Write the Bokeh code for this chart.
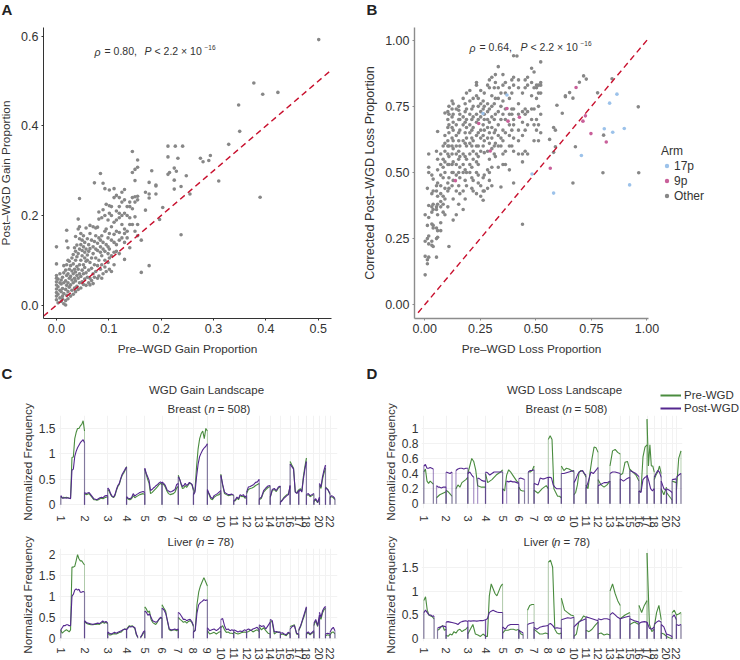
from bokeh.plotting import figure
from bokeh.layouts import column, row
from bokeh.models import Label, Legend, LegendItem, FixedTicker, Range1d
from bokeh.embed import file_html
from bokeh.resources import INLINE

TXT = "#333333"
FONT = "Liberation Sans"
GREY = "#878787"
GREEN = "#4a8c3f"
PURPLE = "#54278f"
RED = "#c8102e"

# ---------- panel A: x, [y...] columns
gain_columns = [
 (.000,[.012,.02,.028,.036,.045,.052,.06,.066,.092,.13]),
 (.003,[.005,.024,.041,.058]),
 (.0065,[.016,.033,.05,.07]),
 (.009,[.008,.03,.047,.056]),
 (.0115,[.02,.037,.014,.062]),
 (.014,[.003,.026,.05,.072,.088]),
 (.0175,[.0,.01,.035,.054,.078]),
 (.0195,[.022,.044,.066,.09,.143,.167]),
 (.022,[.014,.03,.05,.07,.1,.128]),
 (.0245,[.04,.06,.08,.098]),
 (.027,[.02,.045,.064,.088]),
 (.0295,[.033,.056,.076,.105]),
 (.032,[.024,.05,.07,.092,.113]),
 (.0345,[.038,.06,.08,.128]),
 (.0365,[.03,.054,.074,.1,.12,.153]),
 (.039,[.042,.066,.086,.108,.134]),
 (.0415,[.035,.06,.08,.115,.17,.192]),
 (.044,[.05,.07,.09,.125,.148,.175,.238]),
 (.0465,[.038,.064,.1,.135,.16]),
 (.049,[.052,.078,.11,.122,.145]),
 (.0515,[.046,.07,.09,.13,.155]),
 (.054,[.058,.084,.105,.118,.14]),
 (.0565,[.044,.072,.098,.125,.172]),
 (.059,[.062,.1,.112,.148]),
 (.0615,[.05,.078,.12,.135]),
 (.064,[.045,.06,.095,.126,.16,.178]),
 (.067,[.055,.082,.105,.145]),
 (.070,[.048,.07,.115,.13,.175]),
 (.0725,[.062,.09,.142,.273]),
 (.075,[.075,.105,.125,.155,.172]),
 (.0785,[.06,.088,.122,.138,.174]),
 (.081,[.065,.1,.15,.192,.208]),
 (.084,[.08,.118,.13,.145,.294]),
 (.0865,[.06,.09,.11,.155,.195]),
 (.089,[.07,.125,.14,.213,.272]),
 (.0925,[.085,.1,.12,.165,.2,.26]),
 (.095,[.075,.135,.17,.225]),
 (.0985,[.095,.115,.13,.15,.19]),
 (.101,[.08,.105,.125,.16,.205,.222,.257]),
 (.105,[.075,.11,.145,.175,.2,.22]),
 (.110,[.09,.118,.14,.158,.185,.24,.26]),
 (.1145,[.12,.135,.165,.19,.21,.245]),
 (.120,[.115,.145,.162,.195,.205,.22,.24]),
 (.125,[.15,.18,.2,.23,.252]),
 (.130,[.102,.14,.16,.17,.205,.235,.258]),
 (.135,[.15,.165,.2,.22]),
 (.140,[.128,.18,.195,.22,.23]),
 (.145,[.18,.215,.24,.296,.343]),
 (.150,[.165,.197,.23,.242,.278,.303]),
 (.155,[.155,.18,.235,.243,.308,.324]),
 (.162,[.073,.145]),
 (.170,[.212,.252]),
 (.177,[.088,.239,.248,.274]),
 (.182,[.3]),
 (.190,[.248,.266,.268]),
 (.197,[.191]),
 (.203,[.218]),
 (.213,[.292,.331,.355]),
 (.216,[.296]),
 (.225,[.259,.279,.306]),
 (.227,[.355]),
 (.229,[.299]),
 (.232,[.328]),
 (.238,[.157,.265]),
 (.241,[.355]),
 (.248,[.289]),
 (.255,[.248]),
 (.275,[.328]),
 (.280,[.32]),
 (.291,[.323]),
 (.294,[.334]),
 (.310,[.277]),
 (.329,[.359]),
 (.348,[.447]),
 (.350,[.388]),
 (.377,[.496]),
 (.389,[.241]),
 (.394,[.471]),
 (.423,[.475]),
 (.501,[.593]),
]

# ---------- panel B
loss_columns = [
 (.002,[.113,.183,.24,.34]),
 (.012,[.155,.17,.25,.3,.44]),
 (.018,[.18,.23,.26,.33,.375,.5,.52,.57]),
 (.032,[.225,.24,.305,.35,.37,.42,.49]),
 (.038,[.22,.29,.3,.36,.38,.43,.475]),
 (.053,[.18,.25,.29,.36,.37,.43,.45,.58]),
 (.058,[.255,.28,.34,.38,.41,.46,.51,.55,.655]),
 (.072,[.28,.31,.37,.39,.42,.45,.49,.53,.57]),
 (.083,[.35,.38,.41,.48,.52,.55,.6]),
 (.091,[.34,.4,.44,.5,.54,.58,.61,.64,.725]),
 (.104,[.37,.43,.46,.53,.57,.6,.62,.67,.7,.73]),
 (.109,[.22,.44,.48,.53,.56,.6,.65,.68,.72,.75]),
 (.123,[.45,.5,.53,.57,.6,.63,.67,.71,.74,.77]),
 (.128,[.32,.4,.47,.5,.54,.59,.62,.66,.69,.72,.76]),
 (.142,[.34,.43,.49,.53,.57,.6,.64,.68,.74]),
 (.153,[.38,.45,.5,.55,.58,.62,.65,.7,.735,.75]),
 (.158,[.42,.48,.52,.56,.6,.66,.7,.72]),
 (.173,[.36,.43,.5,.53,.57,.62,.68,.71,.78]),
 (.182,[.4,.47,.51,.56,.61,.65,.69,.73,.76]),
 (.188,[.45,.5,.55,.6,.63,.67,.7,.74,.8]),
 (.203,[.5,.53,.57,.61,.65,.68,.72,.77,.81]),
 (.212,[.44,.48,.52,.6,.63,.66,.7,.74]),
 (.218,[.43,.47,.55,.58,.62,.67,.71,.75,.78]),
 (.233,[.42,.5,.54,.57,.6,.64,.69,.72,.79,.83,.84]),
 (.241,[.46,.49,.53,.56,.6,.65,.7,.75,.78]),
 (.252,[.41,.45,.58,.63,.66,.71,.73,.76,.81]),
 (.263,[.395,.43,.48,.6,.64,.68,.74,.77]),
 (.268,[.43,.49,.575,.62,.66,.7,.72,.75,.8]),
 (.283,[.44,.51,.58,.63,.67,.7,.73,.76,.83]),
 (.291,[.47,.5,.55,.61,.65,.69,.74,.82,.85]),
 (.302,[.45,.52,.59,.63,.67,.71,.75,.79,.86]),
 (.313,[.57,.6,.65,.7,.76,.82]),
 (.318,[.56,.61,.66,.72,.78,.84,.87]),
 (.331,[.52,.6,.64,.68,.73,.78,.82,.9]),
 (.343,[.445,.6,.63,.7,.75,.8]),
 (.352,[.53,.57,.62,.66,.72,.77,.83,.87]),
 (.363,[.53,.58,.65,.7,.74,.8,.84]),
 (.381,[.51,.6,.64,.68,.72,.78,.82]),
 (.392,[.6,.66,.72,.74,.8,.85]),
 (.40,[.46,.58,.63,.68,.7,.74,.83,.86,.941]),
 (.415,[.94]),
 (.422,[.57,.62,.66,.72,.76,.82,.85]),
 (.44,[.304,.54,.57,.64,.69,.73,.8]),
 (.452,[.58,.66,.72,.74,.82,.85]),
 (.463,[.57,.68,.73,.83,.86]),
 (.481,[.7,.74,.79,.84,.894]),
 (.492,[.62,.68,.74,.82,.88]),
 (.503,[.66,.7,.78,.82,.83]),
 (.512,[.62,.68,.75,.8,.83]),
 (.522,[.65,.72,.8,.83,.84,.918]),
 (.562,[.625]),
 (.58,[.576,.67]),
 (.588,[.597,.66]),
 (.595,[.754]),
 (.619,[.724]),
 (.633,[.786,.79]),
 (.652,[.802]),
 (.667,[.46,.781]),
 (.678,[.597]),
 (.696,[.841]),
 (.715,[.865]),
 (.727,[.853]),
 (.778,[.801]),
 (.802,[.499]),
 (.805,[.641]),
 (.843,[.854]),
 (.961,[.748]),
 (.963,[.499]),
]
arm_17p_x = [.865,.832,.808,.898,.846,.705,.922,.580,.483,.262,.370]
arm_17p_y = [.796,.762,.665,.666,.652,.564,.453,.422,.494,.723,.793]
arm_9p_x = [.681,.723,.712,.748,.817,.565,.138,.295,.370,.375,.426,.243]
arm_9p_y = [.821,.714,.694,.647,.615,.516,.469,.581,.742,.694,.709,.685]

# ---------- landscapes: genome and tick labels
chrom_len = [249,243,198,191,181,171,159,146,141,135,135,133,115,107,102,90,81,78,59,63,48,51]
chrom_tick_labels = ["1","2","3","4","5","6","7","8","9","10","11","12","13","14","15","16","17","18","","20","","22"]

gain_breast_post = [
 [.18,.14,.13,.14,.13,.14,.13,.12,.68,.7,.95,1.05,1.12,1.17,1.22,1.25,1.28,1.22],
 [.24,.22,.23,.24,.2,.16,.12,.11,.1,.12,.14,.15,.14,.17,.18,.18],
 [.33,.3,.22,.17,.15,.2,.3,.38,.42,.52,.6,.65,.7,.74],
 [.16,.13,.12,.14,.22,.17,.2,.22,.24,.25,.26,.24],
 [.72,.62,.55,.48,.28,.3,.33,.35,.38,.4,.43,.45,.42],
 [.45,.42,.38,.3,.27,.25,.26,.28,.3,.4,.42],
 [.55,.5,.42,.36,.38,.42,.38,.4,.44,.42,.4,.3],
 [.2,.25,.55,.8,.95,1.02,1.08,1.12,1.15,1.2],
 [.3,.22,.15,.12,.18,.2,.22,.25,.28],
 [.58,.4,.25,.22,.2,.2,.21,.19],
 [.08,.1,.15,.12,.2,.18,.2,.15,.18],
 [.25,.35,.36,.38,.4,.44,.45,.5],
 [.12,.15,.28,.33,.37,.38],
 [.15,.3,.32,.28,.35,.37],
 [.05,.08,.12,.15,.18,.2,.38],
 [.8,.75,.7,.25,.22,.28],
 [.25,.3,.25,.5,.7,.85],
 [.2,.22,.18,.2,.22],
 [.08,.12,.05,.15],
 [.42,.35,.55,.68,.78],
 [.33,.3,.22],
 [.15,.18,.16,.12],
]
gain_breast_pre = [
 [.16,.13,.15,.14,.15,.14,.13,.13,.93,.94,1.3,1.42,1.5,1.5,1.55,1.58,1.65,1.45],
 [.22,.2,.21,.22,.18,.14,.1,.1,.09,.1,.12,.13,.12,.14,.15,.16],
 [.3,.27,.2,.16,.14,.18,.28,.36,.4,.5,.58,.62,.68,.75],
 [.14,.11,.1,.12,.18,.14,.16,.18,.2,.21,.22,.2],
 [.7,.6,.5,.42,.22,.24,.27,.3,.33,.36,.4,.42,.4],
 [.42,.4,.35,.27,.22,.2,.21,.22,.25,.33,.36],
 [.58,.5,.4,.32,.33,.38,.34,.38,.42,.42,.38,.28],
 [.2,.3,.75,1.1,1.3,1.4,1.45,1.3,1.5,1.45],
 [.28,.2,.12,.1,.15,.17,.19,.2,.24],
 [.6,.38,.22,.2,.18,.19,.2,.18],
 [.07,.08,.13,.1,.18,.16,.17,.13,.15],
 [.22,.3,.32,.33,.35,.38,.4,.42],
 [.1,.13,.25,.3,.34,.36],
 [.14,.28,.3,.26,.33,.36],
 [.06,.09,.14,.17,.2,.22,.36],
 [.85,.78,.72,.25,.24,.3],
 [.27,.32,.26,.55,.75,.92],
 [.18,.2,.16,.18,.2],
 [.06,.1,.04,.12],
 [.38,.32,.5,.62,.72],
 [.35,.3,.2],
 [.14,.16,.14,.1],
]
gain_liver_post = [
 [.2,.25,.3,.3,.32,.32,.3,.3,1.0,1.05,1.15,1.18,1.15,1.17,1.1,1.1,1.12,1.1],
 [.42,.38,.36,.35,.34,.33,.34,.35,.36,.35,.38,.41,.38,.4,.36],
 [.15,.12,.1,.12,.14,.12,.14,.16,.18,.2,.22,.2],
 [.2,.24,.28,.27,.28,.27,.25,.1,.03,.0,.02,.08,.15,.18],
 [.65,.62,.55,.58,.5,.42,.4,.38,.4,.45,.5,.48],
 [.72,.68,.6,.42,.22,.2,.2,.22,.2,.22],
 [.62,.58,.52,.45,.45,.42,.44,.45,.4,.3],
 [.15,.18,.6,.8,.85,.88,.92,.9,.92],
 [.25,.18,.2,.22,.18,.22,.28],
 [.45,.47,.3,.2,.22,.18,.2,.18],
 [.2,.18,.15,.17,.16,.2,.18],
 [.2,.22,.18,.22,.24,.26,.2],
 [.32,.28,.3,.22,.3,.38],
 [.45,.42,.15,.16,.14,.15],
 [.12,.13,.1,.08,.14,.12],
 [.22,.28,.3,.12,.1],
 [.2,.3,.45,.6,.75],
 [.12,.15,.1,.14,.18],
 [.35,.45,.3,.55],
 [.62,.5,.65,.72,.76],
 [.1,.12,.1],
 [.15,.22,.26,.18],
]
gain_liver_pre = [
 [.2,.12,.15,.18,.2,.18,.15,.2,1.7,1.7,1.72,1.85,2.0,1.9,1.85,1.85,1.8,1.75],
 [.4,.36,.34,.33,.32,.32,.33,.33,.34,.33,.36,.38,.36,.38,.34],
 [.12,.08,.08,.1,.11,.1,.12,.14,.15,.2,.22,.2],
 [.22,.26,.3,.28,.3,.27,.22,.08,.02,.0,.02,.06,.12,.16],
 [.75,.7,.62,.65,.45,.38,.35,.33,.38,.45,.48,.48],
 [.8,.72,.65,.4,.2,.18,.2,.2,.18,.2],
 [.5,.45,.42,.38,.4,.36,.4,.42,.38,.28],
 [.15,.2,.8,1.1,1.25,1.35,1.45,1.35,1.25],
 [.18,.1,.12,.14,.1,.14,.16],
 [.25,.3,.2,.14,.15,.12,.12,.1],
 [.15,.12,.1,.12,.14,.15,.14],
 [.14,.16,.2,.15,.18,.2,.16],
 [.28,.2,.25,.18,.12,.1],
 [.42,.38,.1,.14,.15,.14],
 [.08,.1,.08,.06,.12,.1],
 [.28,.3,.32,.1,.08],
 [.18,.28,.42,.55,.72],
 [.1,.12,.08,.12,.15],
 [.3,.42,.28,.5],
 [.55,.45,.6,.68,.72],
 [.06,.08,.06],
 [.08,.14,.15,.1],
]
loss_breast_post = [
 [.5,.52,.47,.47,.48,.47,.46,0,.24,.22,.22,.21,.22,.22,.22],
 [.42,.41,.4,.42,0,.44,.46,.47,.47,.46,.47,.47],
 [.4,.42,.38,.35,0,.34,.33,.31,.3,.3],
 [.42,.41,.38,.4,.42,.42,.42,.42,.42],
 [.2,0,.3,.29,.3,.29,.29,.28,.27],
 [.33,.34,.33,.32,0,.42,.44,.44,.45],
 [.27,.26,.25,.34,.33,.33,.34,.35],
 [.35,.35,.34,.25,.22,.2,.2,.2,.2],
 [.4,.4,.41,.42,.43,.44],
 [.28,.32,.38,.42,.43,.44,.4,.38],
 [.2,.3,.42,.4,.44,.48],
 [.24,.26,.28,.28,.3],
 [.4,.42,.42,.41,.4],
 [.33,.3,.33,.35],
 [.44,.42,.4,.36],
 [.17,.15,.32,.35,.36],
 [.38,.3,.2,.17,.2],
 [.35,.4,.44,.42,.35],
 [.3,.2,.18],
 [.2,.18,.15],
 [.32,.33],
 [.35,.38,.4],
]
loss_breast_pre = [
 [.42,.46,.3,.27,.3,.28,.26,0,.08,.1,.12,.13,.14,.15,.16],
 [.18,.16,.13,.1,0,.2,.25,.22,.28,.3,.32,.35],
 [.4,.5,.6,.56,.45,.24,.23,.22,.22,.22],
 [.4,.28,.3,.32,.35,.38,.4,.42,.45],
 [.2,.17,.38,.45,.42,.38,.34,.3,.28],
 [.22,.18,.17,.17,0,.42,.42,.44,.5],
 [.18,.16,.14,.17,.2,.22,.24,.2],
 [.85,.9,.85,.2,.15,.1,.1,.08],
 [.5,.44,.47,.46,.44,.42],
 [.12,.15,.25,.42,.44,.43,.4,.35],
 [.25,.2,.42,.6,.75,.74,.68],
 [.32,.25,.22,.25,.3],
 [.5,.7,.72,.68,.66],
 [.38,.4,.55,.56,.45],
 [.46,.42,.38,.3],
 [.17,.16,.62,.75,.78],
 [1.12,.5,.78,.5,.5,.42],
 [.32,.38,.42,.5,.4],
 [.2,.12,.22],
 [.15,.1,.05],
 [.3,.28],
 [.18,.6,.7],
]
loss_liver_post = [
 [.55,.6,.55,.5,.5,.47,.48,0,.22,.24,.25,.27,.26,.25],
 [.35,.36,.35,.34,.33,.32,.3,.34,.36,.37,.38,.36],
 [.38,.37,.38,.37,.38,.38,.4],
 [.4,.42,.55,.58,.6,.58,.56,.55,.55,.55],
 [.25,.2,.28,.3,.3,.3,.3],
 [.18,.15,.12,0,.3,.32,.33,.34],
 [.24,.2,.24,.26,.27,.28],
 [.3,.32,.28,.22,.23,.22,.22],
 [.4,.42,.44,.43,.45],
 [.25,.3,.35,.38,.4,.42],
 [.46,.44,.42,.4,.38],
 [.42,.4,.42,.42,.4],
 [.5,.55,.5,.45,.42],
 [.42,.45,.48],
 [.42,.38,.35],
 [.32,.35,.36,.35],
 [.35,.22,.2,.25],
 [.3,.35,.38,.35],
 [.3,.25,.1],
 [.1,.08,.05],
 [.45,.5,.4],
 [.3,.28,.3],
]
loss_liver_pre = [
 [.8,.88,.6,.5,.48,.46,.42,0,.18,.2,.25,.28,.18,.2],
 [.08,.05,.1,.08,.15,.12,.18,.2,.15,.18,.2,.25],
 [.1,.2,.3,.1,.08,.05,.1,.06],
 [.05,.05,.9,1.15,1.05,.95,.9,1.0,1.1,1.15],
 [.12,.18,.18,.2,.2,.18,.2],
 [.18,.1,.08,0,.6,.7,.72,.72],
 [.2,.15,.1,.1,.12,.1],
 [1.6,1.65,1.5,.2,.12,.1,.12],
 [.85,.6,.55,.5,.48],
 [.05,.1,.35,.4,.48,.45],
 [.18,.15,.2,.28,.35],
 [.1,.12,.08,.1,.08],
 [1.0,1.15,.95,.8,.7],
 [.42,.5,.55],
 [.3,.35,.3],
 [.7,.55,.7,.8],
 [1.8,.3,.15,.2],
 [.25,.55,.7,.4],
 [.12,.1,.05],
 [.05,.02,.0],
 [.55,.6,.5],
 [.5,.52,.55],
]

def unzip(cols):
    xs, ys = [], []
    for x, vals in cols:
        for v in vals:
            xs.append(x); ys.append(v)
    return xs, ys

def genome_line(series):
    """Curve with gaps, plus the vertical drops to zero at each gap."""
    cx_, cy_, dx_, dy_ = [], [], [], []
    start = 0
    for length, vals in zip(chrom_len, series):
        n = len(vals)
        seg = []
        def flush():
            if seg:
                cx_.extend(p[0] for p in seg); cy_.extend(p[1] for p in seg)
                cx_.append(float("nan")); cy_.append(float("nan"))
                dx_.append([seg[0][0], seg[0][0]]); dy_.append([0, seg[0][1]])
                dx_.append([seg[-1][0], seg[-1][0]]); dy_.append([0, seg[-1][1]])
                seg.clear()
        for i, v in enumerate(vals):
            xv = start + length * i / (n - 1)
            if v == 0 and (i > 0 and i < n - 1):
                flush()
            else:
                seg.append((xv, v))
        flush()
        start += length
    return cx_, cy_, dx_, dy_

chrom_start = [sum(chrom_len[:i]) for i in range(len(chrom_len))]
META = {}

def make(width, height, l, t, r, b, xr, yr, **kw):
    p = figure(width=width, height=height, frame_width=width - l - r, frame_height=height - t - b,
               min_border_left=l, min_border_right=r, min_border_top=t, min_border_bottom=b,
               x_range=Range1d(*xr), y_range=Range1d(*yr),
               output_backend="svg", toolbar_location=None, **kw)
    p.outline_line_color = None
    p.background_fill_color = None
    p.border_fill_color = None
    for ax in (p.xaxis[0], p.yaxis[0]):
        ax.major_label_text_font = FONT
        ax.axis_label_text_font = FONT
        ax.axis_label_text_font_style = "normal"
        ax.major_label_text_color = TXT
        ax.axis_label_text_color = TXT
    META[p.id] = ((l, t, width - r, height - b), xr, yr)
    return p

def strip(width, height):
    p = figure(width=width, height=height, frame_width=width, frame_height=height,
               min_border_left=0, min_border_right=0, min_border_top=0, min_border_bottom=0,
               x_range=Range1d(0, width), y_range=Range1d(height, 0),
               x_axis_location=None, y_axis_location=None,
               output_backend="svg", toolbar_location=None)
    p.outline_line_color = None
    p.background_fill_color = None
    p.border_fill_color = None
    p.grid.visible = False
    META[p.id] = ((0, 0, width, height), (0, width), None)
    return p

def put(p, text, px, py, size=11, style="normal", align="left", color=TXT):
    # px, py are offsets from the figure's own frame origin reference (left edge of figure, top of figure)
    (l, t, r, b), xr, yr = META[p.id]
    x = xr[0] + (px - l) / (r - l) * (xr[1] - xr[0])
    y = py if yr is None else yr[1] - (py - t) / (b - t) * (yr[1] - yr[0])
    p.add_layout(Label(x=x, y=y, text=text, text_font=FONT, text_font_size=f"{size}px",
                       text_font_style=style, text_align=align, text_baseline="middle",
                       text_color=color))

def scatter_axes(p, xticks, xlabels, yticks, ylabels, xlabel, ylabel, axis_color, axis_width, label_standoff, ylab_size):
    p.xgrid.visible = False
    p.ygrid.visible = False
    xa, ya = p.xaxis[0], p.yaxis[0]
    xa.ticker = FixedTicker(ticks=xticks)
    ya.ticker = FixedTicker(ticks=yticks)
    xa.major_label_overrides = dict(zip(xticks, xlabels))
    ya.major_label_overrides = dict(zip(yticks, ylabels))
    xa.axis_label, ya.axis_label = xlabel, ylabel
    for ax in (xa, ya):
        ax.axis_line_color = axis_color
        ax.axis_line_width = axis_width
        ax.major_tick_line_color = axis_color
        ax.major_tick_out = 2
        ax.major_tick_in = 0
        ax.minor_tick_line_color = None
        ax.major_label_text_font_size = "12.5px"
        ax.major_label_standoff = 3
    xa.axis_label_text_font_size = "11.8px"
    ya.axis_label_text_font_size = ylab_size
    xa.axis_label_standoff = 6
    ya.axis_label_standoff = label_standoff

# top strip with the two panel letters
top = strip(740, 27)
put(top, "A", 1, 9, 15, "bold", color="#222222")
put(top, "B", 366, 9, 15, "bold", color="#222222")

# panel A: a 4px wider left gutter hanging off the page so that the axis title sits at the page edge
a_ticks_x = [0, .1, .2, .3, .4, .5]
a_labels_x = ["0.0", "0.1", "0.2", "0.3", "0.4", "0.5"]
a_ticks_y = [0, .2, .4, .6]
a_labels_y = ["0.0", "0.2", "0.4", "0.6"]
A = make(364, 333, 47, 0, 29, 42, (-.0248, .5254), (-.03, .62), margin=(0, 0, 0, -4))
scatter_axes(A, a_ticks_x, a_labels_x, a_ticks_y, a_labels_y,
             "Pre\u2013WGD Gain Proportion", "Post\u2013WGD Gain Proportion", "#333333", 1, 5, "11.8px")
ax, ay = unzip(gain_columns)
A.scatter(ax, ay, size=3.6, color=GREY, line_color=None)
A.line([-.025, .525], [-.025, .525], color=RED, line_width=1.4, line_dash="6 4")
put(A, "\u03c1", 98, 24, 10.5, "italic")
put(A, "= 0.80,", 108, 23, 10.5)
put(A, "P", 148, 23, 10.5, "italic")
put(A, "< 2.2 \u00d7 10", 158, 23, 10.5)
put(A, "\u221216", 208, 20, 6.5)

# panel B
b_ticks = [0, .25, .5, .75, 1]
b_labels = ["0.00", "0.25", "0.50", "0.75", "1.00"]
B = make(383, 333, 57, 0, 92, 42, (-.046, 1.007), (-.052, 1.048), margin=(0, 0, 0, -3))
scatter_axes(B, b_ticks, b_labels, b_ticks, b_labels,
             "Pre\u2013WGD Loss Proportion", "Corrected Post\u2013WGD Loss Proportion", "#8c8c8c", 1.4, 5, "12.6px")
bx, by = unzip(loss_columns)
r_other = B.scatter(bx, by, size=3.6, color=GREY, line_color=None)
r_17 = B.scatter(arm_17p_x, arm_17p_y, size=3.6, color="#9cc2ea", line_color=None)
r_9 = B.scatter(arm_9p_x, arm_9p_y, size=3.6, color="#c9609a", line_color=None)
B.line([-.03, 1.01], [-.03, 1.01], color=RED, line_width=1.4, line_dash="6 4")
put(B, "\u03c1", 112, 20, 10.5, "italic")
put(B, "= 0.64,", 122, 19, 10.5)
put(B, "P", 163, 19, 10.5, "italic")
put(B, "< 2.2 \u00d7 10", 173, 19, 10.5)
put(B, "\u221216", 223, 16, 6.5)
leg = Legend(items=[LegendItem(label="17p", renderers=[r_17]), LegendItem(label="9p", renderers=[r_9]),
                    LegendItem(label="Other", renderers=[r_other])],
             location="center_left", title="Arm", background_fill_alpha=0, border_line_color=None,
             label_text_font=FONT, label_text_font_size="12px", label_text_color=TXT,
             label_text_line_height=1.0,
             title_text_font=FONT, title_text_font_size="12px", title_text_color=TXT,
             title_text_font_style="normal", glyph_width=11, glyph_height=12, spacing=1,
             label_height=12, label_standoff=2, padding=0, margin=13, title_standoff=1)
B.add_layout(leg, "right")

def landscape(p, pre, post, yticks, ylabels, x_standoff=7):
    p.xgrid.grid_line_color = "#f2f2f2"
    p.ygrid.grid_line_color = "#f2f2f2"
    p.xgrid.grid_line_width = 1
    p.ygrid.grid_line_width = 1
    xa, ya = p.xaxis[0], p.yaxis[0]
    xa.ticker = FixedTicker(ticks=chrom_start)
    ya.ticker = FixedTicker(ticks=yticks)
    xa.major_label_overrides = dict(zip(chrom_start, chrom_tick_labels))
    ya.major_label_overrides = dict(zip(yticks, ylabels))
    xa.major_label_orientation = "vertical"
    ya.axis_label = "Normalized Frequency"
    for ax in (xa, ya):
        ax.axis_line_color = None
        ax.major_tick_line_color = None
        ax.minor_tick_line_color = None
        ax.major_tick_out = 0
        ax.major_tick_in = 0
        ax.minor_tick_out = 0
        ax.minor_tick_in = 0
        ax.axis_label_text_font_size = "11.7px"
    xa.major_label_text_font_size = "11px"
    ya.major_label_text_font_size = "12px"
    xa.major_label_standoff = x_standoff
    ya.major_label_standoff = 3
    ya.axis_label_standoff = 2
    gx, gy, gdx, gdy = genome_line(pre)
    vx, vy, vdx, vdy = genome_line(post)
    p.multi_line(gdx, gdy, color=GREEN, line_alpha=.4, line_width=1)
    p.line(gx, gy, color=GREEN, line_width=1.1)
    p.multi_line(vdx, vdy, color=PURPLE, line_alpha=.5, line_width=1.2)
    p.line(vx, vy, color=PURPLE, line_width=1.1)

def yrange(top_px, bottom_px, zero_px, per_unit):
    return ((zero_px - bottom_px) / per_unit, (zero_px - top_px) / per_unit)

cx = (-24, 2903)
dx = (-26, 2893)
OVERLAP = 14

strip2 = strip(740, 55)
put(strip2, "C", 1, 13, 15, "bold", color="#222222")
put(strip2, "D", 366, 13, 15, "bold", color="#222222")
put(strip2, "WGD Gain Landscape", 206, 29, 11.5, align="center")
put(strip2, "Breast (", 167, 48, 11.5)
put(strip2, "n", 208, 48, 11.5, "italic")
put(strip2, "= 508)", 217, 48, 11.5)
put(strip2, "WGD Loss Landscape", 564, 29, 11.5, align="center")
put(strip2, "Breast (", 525, 48, 11.5)
put(strip2, "n", 565, 48, 11.5, "italic")
put(strip2, "= 508)", 574, 48, 11.5)
lg_pre = strip2.line([-20, -10], [10, 10], color=GREEN, line_width=2)
lg_post = strip2.line([-20, -10], [20, 20], color=PURPLE, line_width=2)
leg2 = Legend(items=[LegendItem(label="Pre-WGD", renderers=[lg_pre]), LegendItem(label="Post-WGD", renderers=[lg_post])],
              location=(660, 1), background_fill_alpha=0, border_line_color=None,
              label_text_font=FONT, label_text_font_size="11.5px", label_text_color=TXT,
              label_text_line_height=1.0,
              glyph_width=21, glyph_height=12, spacing=1, label_height=12, label_standoff=3,
              padding=0, margin=0)
strip2.add_layout(leg2, "center")

C1 = make(360, 118 + OVERLAP, 58, OVERLAP, 23, 25, cx, yrange(415, 508, 504.3, 50.9))
landscape(C1, gain_breast_pre, gain_breast_post, [0, .5, 1, 1.5], ["0", "0.5", "1", "1.5"])
D1 = make(380, 118 + OVERLAP, 61, OVERLAP, 58, 25, dx, yrange(415, 508, 503.3, 75.6))
landscape(D1, loss_breast_pre, loss_breast_post, [0, .2, .4, .6, .8, 1], ["0", "0.2", "0.4", "0.6", "0.8", "1"])

strip3 = strip(740, 15)
put(strip3, "Liver (", 167, 8, 11.5)
put(strip3, "n", 197.5, 8, 11.5, "italic")
put(strip3, "= 78)", 207, 8, 11.5)
put(strip3, "Liver (", 523, 8, 11.5)
put(strip3, "n", 553.5, 8, 11.5, "italic")
put(strip3, "= 78)", 563, 8, 11.5)

C2 = make(360, 112 + OVERLAP, 58, OVERLAP, 23, 19, cx, yrange(548, 641, 637.7, 41.8))
landscape(C2, gain_liver_pre, gain_liver_post, [0, .5, 1, 1.5, 2], ["0", "0.5", "1", "1.5", "2"], x_standoff=6)
D2 = make(380, 112 + OVERLAP, 61, OVERLAP, 58, 19, dx, yrange(548, 641, 638.3, 47.7))
landscape(D2, loss_liver_pre, loss_liver_post, [0, .5, 1, 1.5], ["0", "0.5", "1", "1.5"], x_standoff=6)

page = column(top, row(A, B, spacing=0), strip2,
              row(C1, D1, spacing=0, margin=(-OVERLAP, 0, 0, 0)), strip3,
              row(C2, D2, spacing=0, margin=(-OVERLAP, 0, 0, 0)),
              spacing=0, margin=(0, 0, 0, 0))
open("out.html", "w").write(file_html(page, INLINE))
